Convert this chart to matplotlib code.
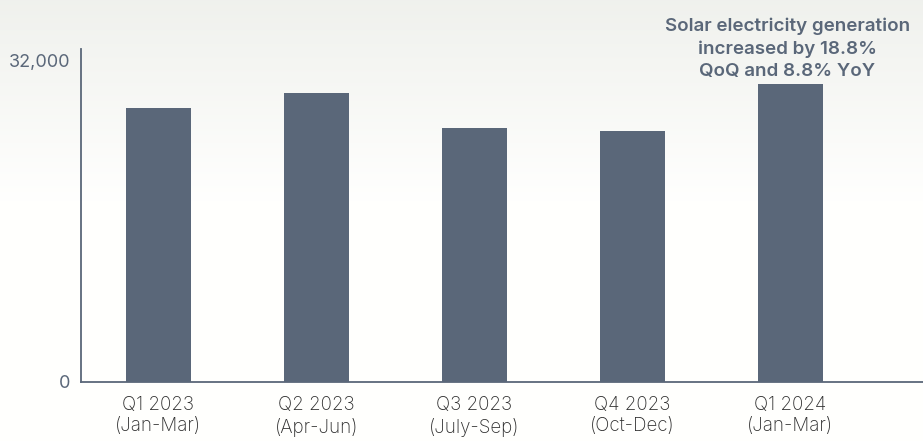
import matplotlib.pyplot as plt
import numpy as np

# quarterly solar generation
quarters = ['Q1 2023\n(Jan-Mar)', 'Q2 2023\n(Apr-Jun)', 'Q3 2023\n(July-Sep)',
            'Q4 2023\n(Oct-Dec)', 'Q1 2024\n(Jan-Mar)']
generation = [27280, 28790, 25280, 24970, 29690]
y_ticks = [0, 32000]
y_tick_labels = ['0', '32,000']
note = 'Solar electricity generation\nincreased by 18.8%\nQoQ and 8.8% YoY'

bar_color = '#5a6779'
text_color = '#5a6779'

fig = plt.figure(figsize=(9.23, 4.41), dpi=100)

# soft background fading to white
bg = fig.add_axes([0, 0, 1, 1], zorder=0)
grad = np.linspace(0, 1, 256).reshape(-1, 1)
top = np.array([0.94, 0.945, 0.93])
bottom = np.array([1.0, 1.0, 0.995])
w = np.clip(grad * 2.2, 0, 1)[..., None]
img = top * (1 - w) + bottom * w
bg.imshow(img, aspect='auto', extent=[0, 1, 0, 1], origin='upper')
bg.axis('off')

ax = fig.add_axes([0.0878, 0.134, 0.912, 0.755], zorder=1)
ax.patch.set_alpha(0)
x = np.arange(len(quarters))
ax.bar(x, generation, width=0.41, color=bar_color)

ax.set_xlim(-0.49, 4.84)
ax.set_ylim(0, 33200)
ax.set_yticks(y_ticks)
ax.set_yticklabels(y_tick_labels, fontsize=13, color=text_color,
                   family='Inter', fontweight='normal')
ax.set_xticks(x)
ax.set_xticklabels(quarters, fontsize=13.5, color='#2e2e2e',
                   family='Inter', fontweight='light', linespacing=1.25)
ax.tick_params(length=0, pad=8)
ax.tick_params(axis='x', pad=10)
for side in ['top', 'right']:
    ax.spines[side].set_visible(False)
for side in ['left', 'bottom']:
    ax.spines[side].set_color(bar_color)
    ax.spines[side].set_linewidth(1.3)

ax.annotate(note, xy=(4, generation[4]), xytext=(-2, 3), textcoords='offset points',
            ha='center', va='bottom', fontsize=13.5, fontweight='semibold',
            color=text_color, family='Inter', linespacing=1.4,
            annotation_clip=False)

fig.savefig('out.png', dpi=100)
